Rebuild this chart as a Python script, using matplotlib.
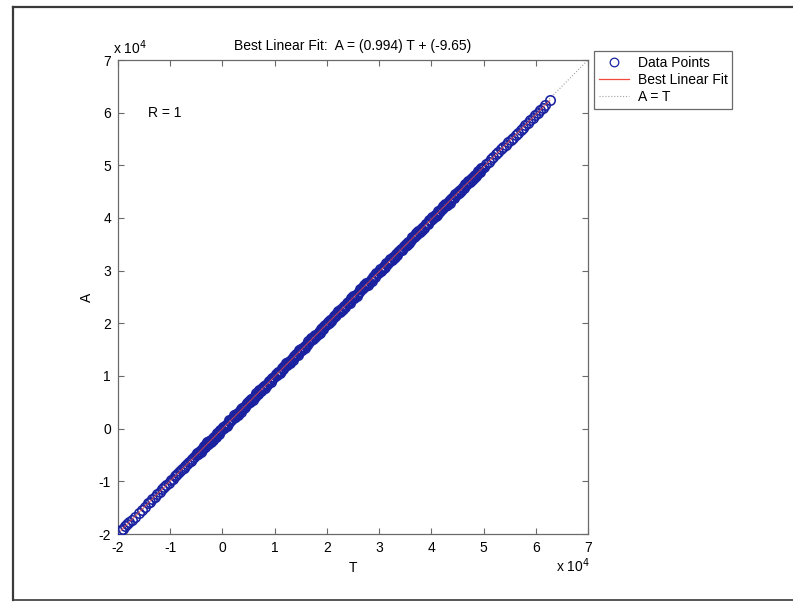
import matplotlib
matplotlib.use("Agg")
import matplotlib.pyplot as plt
from matplotlib.lines import Line2D
import numpy as np

plt.rcParams['font.family'] = ['Liberation Sans', 'DejaVu Sans']

# Targets (T) and network outputs (A), first batch
T = [
    -19420, -19050, -18610, -18230, -17890, -17340, -16820, -16050, -15470, -14860,
    -14320, -13950, -13410, -12980, -12540, -12010, -11630, -11120, -10740, -10310,
    -9870, -9520, -9160, -8830, -8490, -8120, -7800, -7430, -7110, -6790,
    -6420, -6080, -5760, -5450, -5090, -4780, -4430, -4110, -3790, -3460,
    -3130, -2820, -2490, -2160, -1850, -1510, -1190, -870, -540, -220,
    130, 560, 980, 1420, 1870, 2310, 2750, 3180, 3640, 4070,
    4520, 4960, 5390, 5850, 6280, 6720, 7160, 7610, 8040, 8490,
    8930, 9370, 9820, 10250, 10690, 11140, 11580, 12020, 12470, 12900,
    13350, 13790, 14230, 14680, 15110, 15560, 16000, 16440, 16890, 17320,
    17770, 18210, 18650, 19100, 19530, 19980, 20420, 20860, 21310, 21740,
    22190, 22630, 23070, 23520, 23950, 24400, 24840, 25280, 25730, 26160,
    26610, 27050, 27490, 27940, 28370, 28820, 29260, 29700, 30150, 30580,
    31030, 31470, 31910, 32360, 32790, 33240, 33680, 34120, 34570, 35000,
    35450, 35890, 36330, 36780, 37210, 37660, 38100, 38540, 38990, 39420,
    39870, 40310, 40750, 41200, 41630, 42080, 42520, 42960, 43410, 43840,
    44290, 44730, 45170, 45620, 46050, 46500, 46940, 47380, 47830, 48260,
    48710, 49150, 49590, 50020, 50480, 50970, 51430, 51890, 52380, 52840,
    53310, 53770, 54250, 54720, 55180, 55660, 56130, 56590, 57080, 57540,
    58010, 58490, 58960, 59420, 59910, 60370, 60840, 61320, 61790, 62700,
]
A = [
    -19270, -18990, -18460, -18170, -17750, -17300, -16690, -16010, -15350, -14820,
    -14200, -13910, -13300, -12950, -12430, -11990, -11530, -11100, -10650, -10290,
    -9790, -9510, -9080, -8820, -8410, -8110, -7730, -7420, -7050, -6790,
    -6360, -6080, -5700, -5460, -5040, -4790, -4380, -4120, -3750, -3470,
    -3090, -2840, -2460, -2180, -1820, -1540, -1160, -900, -520, -250,
    150, 520, 990, 1370, 1880, 2260, 2750, 3120, 3640, 4010,
    4510, 4890, 5380, 5770, 6260, 6640, 7140, 7520, 8010, 8400,
    8900, 9270, 9780, 10150, 10650, 11030, 11530, 11900, 12420, 12780,
    13290, 13660, 14170, 14550, 15040, 15420, 15930, 16300, 16810, 17170,
    17690, 18060, 18560, 18940, 19440, 19820, 20320, 20690, 21200, 21570,
    22080, 22450, 22960, 23330, 23830, 24210, 24720, 25090, 25600, 25960,
    26470, 26840, 27350, 27730, 28220, 28600, 29110, 29480, 29990, 30350,
    30870, 31240, 31740, 32120, 32620, 33000, 33500, 33870, 34390, 34750,
    35260, 35630, 36140, 36510, 37010, 37390, 37900, 38260, 38780, 39140,
    39660, 40020, 40530, 40910, 41400, 41780, 42290, 42660, 43170, 43530,
    44050, 44420, 44920, 45300, 45800, 46180, 46680, 47050, 47570, 47930,
    48440, 48810, 49320, 49680, 50200, 50620, 51150, 51540, 52090, 52480,
    53010, 53400, 53950, 54350, 54870, 55280, 55820, 56210, 56760, 57150,
    57690, 58100, 58630, 59020, 59580, 59960, 60500, 60910, 61440, 62330,
]

# second batch of samples, concentrated in the central range
T2 = [
    -4940, -4690, -4450, -4200, -3870, -3620, -3380, -3130, -2980, -2730, -2500, -2240,
    -1820, -1570, -1310, -1060, -940, -690, -450, -200,
    130, 380, 620, 870, 1020, 1270, 1500, 1760, 2180, 2430, 2690, 2940,
    3060, 3310, 3550, 3800, 4130, 4380, 4620, 4870, 5020, 5270, 5500, 5760,
    6180, 6430, 6690, 6940, 7060, 7310, 7550, 7800, 8130, 8380, 8620, 8870,
    9020, 9270, 9500, 9760, 10180, 10430, 10690, 10940, 11060, 11310, 11550, 11800,
    12130, 12380, 12620, 12870, 13020, 13270, 13500, 13760, 14180, 14430, 14690, 14940,
    15060, 15310, 15550, 15800, 16130, 16380, 16620, 16870, 17020, 17270, 17500, 17760,
    18180, 18430, 18690, 18940, 19060, 19310, 19550, 19800, 20130, 20380, 20620, 20870,
    21020, 21270, 21500, 21760, 22180, 22430, 22690, 22940, 23060, 23310, 23550, 23800,
    24130, 24380, 24620, 24870, 25020, 25270, 25500, 25760, 26180, 26430, 26690, 26940,
    27060, 27310, 27550, 27800, 28130, 28380, 28620, 28870, 29020, 29270, 29500, 29760,
    30180, 30430, 30690, 30940, 31060, 31310, 31550, 31800, 32130, 32380, 32620, 32870,
    33020, 33270, 33500, 33760, 34180, 34430, 34690, 34940, 35060, 35310, 35550, 35800,
    36130, 36380, 36620, 36870, 37020, 37270, 37500, 37760, 38180, 38430, 38690, 38940,
    39060, 39310, 39550, 39800, 40130, 40380, 40620, 40870, 41020, 41270, 41500, 41760,
    42180, 42430, 42690, 42940, 43060, 43310, 43550, 43800, 44130, 44380, 44620, 44870,
    45020, 45270, 45500, 45760, 46180, 46430, 46690, 46940, 47060, 47310, 47550, 47800,
    48130, 48380, 48620, 48870, 49020, 49270, 49500, 49760,
]
A2 = [
    -4680, -4880, -4340, -4510, -4006, -3296, -3426, -2936, -2622, -2842, -2292, -2512,
    -2078, -1528, -1648, -908, -834, -994, -184, -234,
    360, 160, 700, 530, 854, 1564, 1424, 1924, 2508, 2288, 2868, 2638,
    2772, 3322, 3182, 3922, 4206, 4046, 4856, 4806, 5220, 5020, 5550, 5390,
    5984, 6694, 6584, 7074, 7358, 7138, 7698, 7468, 7812, 8362, 8222, 8962,
    9066, 8906, 9706, 9666, 10350, 10150, 10710, 10540, 10834, 11544, 11414, 11904,
    12398, 12178, 12738, 12508, 12672, 13222, 13072, 13822, 14196, 14036, 14866, 14816,
    15200, 15000, 15540, 15370, 15874, 16584, 16454, 16944, 17258, 17038, 17588, 17368,
    17802, 18352, 18232, 18972, 19046, 18886, 19696, 19646, 20240, 20040, 20580, 20410,
    20734, 21444, 21304, 21804, 22388, 22168, 22748, 22518, 22652, 23202, 23062, 23802,
    24086, 23926, 24736, 24686, 25100, 24900, 25430, 25270, 25864, 26574, 26464, 26954,
    27238, 27018, 27578, 27348, 27692, 28242, 28102, 28842, 28946, 28786, 29586, 29546,
    30230, 30030, 30590, 30420, 30714, 31424, 31294, 31784, 32278, 32058, 32618, 32388,
    32552, 33102, 32952, 33702, 34076, 33916, 34746, 34696, 35080, 34880, 35420, 35250,
    35754, 36464, 36334, 36824, 37138, 36918, 37468, 37248, 37682, 38232, 38112, 38852,
    38926, 38766, 39576, 39526, 40120, 39920, 40460, 40290, 40614, 41324, 41184, 41684,
    42268, 42048, 42628, 42398, 42532, 43082, 42942, 43682, 43966, 43806, 44616, 44566,
    44980, 44780, 45310, 45150, 45744, 46454, 46344, 46834, 47118, 46898, 47458, 47228,
    47572, 48122, 47982, 48722, 48846, 48686, 49466, 49426,
]

slope = 0.994
intercept = -9.65
R_value = 1

tick_vals = [-2, -1, 0, 1, 2, 3, 4, 5, 6, 7]
scale = 1e4

marker_col = '#1a22a0'
fit_col = '#f04a3c'
ident_col = '#a0a0a0'
fs = 10

fig = plt.figure(figsize=(7.93, 6.03), dpi=100)
fig.patch.set_facecolor('white')

# page frame
frame_col = '#3a3a3a'
fig.add_artist(Line2D([13/793, 1.0], [1 - 7/603, 1 - 7/603], color=frame_col, lw=1.6,
                      transform=fig.transFigure))
fig.add_artist(Line2D([13/793, 13/793], [1 - 7/603, 1 - 600/603], color=frame_col, lw=1.6,
                      transform=fig.transFigure))
fig.add_artist(Line2D([13/793, 1.0], [1 - 600/603, 1 - 600/603], color=frame_col, lw=1.2,
                      transform=fig.transFigure))

ax = fig.add_axes([118/793, 1 - 534/603, (588 - 118)/793, (534 - 60)/603])

Tall = np.concatenate([np.array(T, float), np.array(T2, float)])
Aall = np.concatenate([np.array(A, float), np.array(A2, float)])

ax.plot(Tall, Aall, linestyle='none', marker='o', markersize=6.8,
        markerfacecolor='none', markeredgecolor=marker_col, markeredgewidth=1.15, zorder=3)

tline = np.array([Tall.min(), Tall.max()])
ax.plot(tline, slope * tline + intercept, color=fit_col, lw=0.8, zorder=4, alpha=0.7)
lim = np.array([tick_vals[0] * scale, tick_vals[-1] * scale])
ax.plot(lim, lim, color=ident_col, lw=0.8, linestyle=':', zorder=2)

ax.set_xlim(lim)
ax.set_ylim(lim)
ax.set_xticks([v * scale for v in tick_vals])
ax.set_yticks([v * scale for v in tick_vals])
ax.set_xticklabels([str(v) for v in tick_vals])
ax.set_yticklabels([str(v) for v in tick_vals])

for s in ax.spines.values():
    s.set_color('#6a6a6a')
    s.set_linewidth(0.9)
ax.tick_params(direction='in', length=4, width=0.8, color='#6a6a6a',
               top=True, right=True, labelsize=fs, labelcolor='black', pad=5)

ax.set_title('Best Linear Fit:  A = (%.3f) T + (%.2f)' % (slope, intercept),
             fontsize=fs, pad=7)
ax.set_xlabel('T', fontsize=fs, labelpad=4)
ax.set_ylabel('A', fontsize=fs, labelpad=3)

ax.text(-1.43 * scale, 6.0 * scale, 'R = %d' % R_value, fontsize=fs, va='center', ha='left')

fig.text(113/793, 1 - 48/603, r'x 10$^4$', fontsize=fs, ha='left', va='center')
fig.text(556/793, 1 - 566/603, r'x 10$^4$', fontsize=fs, ha='left', va='center')

handles = [
    Line2D([], [], linestyle='none', marker='o', markersize=6.2, markerfacecolor='none',
           markeredgecolor=marker_col, markeredgewidth=0.9),
    Line2D([], [], color=fit_col, lw=0.9),
    Line2D([], [], color=ident_col, lw=0.8, linestyle=':'),
]
leg = fig.legend(handles, ['Data Points', 'Best Linear Fit', 'A = T'],
                 loc='upper left', bbox_to_anchor=(594/793, 1 - 51/603),
                 fontsize=fs, frameon=True, fancybox=False, framealpha=1,
                 edgecolor='#6a6a6a', handlelength=2.2, handletextpad=0.6,
                 borderpad=0.35, labelspacing=0.22, borderaxespad=0)
leg.get_frame().set_linewidth(0.9)

fig.savefig('out.png', dpi=100)
